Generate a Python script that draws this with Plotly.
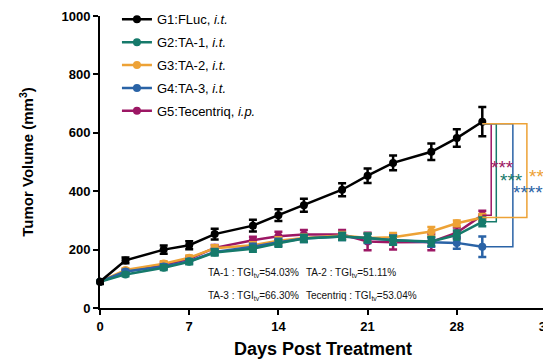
import plotly.graph_objects as go

days = [0, 2, 5, 7, 9, 12, 14, 16, 19, 21, 23, 26, 28, 30]
names = ["G1:FLuc, <i>i.t.</i>", "G2:TA-1, <i>i.t.</i>", "G3:TA-2, <i>i.t.</i>",
         "G4:TA-3, <i>i.t.</i>", "G5:Tecentriq, <i>i.p.</i>"]
colors = ["#000000", "#167a6b", "#eda236", "#2a63a6", "#9c1764"]
g1 = [90, 163, 200, 215, 253, 282, 318, 352, 405, 453, 497, 535, 582, 638]
g1_err = [8, 10, 14, 14, 18, 20, 20, 22, 22, 25, 25, 28, 30, 50]
g2 = [90, 115, 138, 158, 190, 203, 222, 238, 245, 240, 232, 228, 250, 295]
g2_err = [5, 6, 8, 8, 10, 10, 12, 12, 12, 15, 15, 15, 15, 15]
g3 = [90, 130, 152, 172, 205, 215, 230, 240, 248, 240, 242, 262, 290, 310]
g3_err = [5, 6, 8, 8, 10, 10, 12, 12, 12, 15, 15, 15, 10, 12]
g4 = [90, 125, 142, 160, 192, 210, 225, 238, 245, 238, 233, 225, 223, 210]
g4_err = [5, 6, 8, 8, 10, 10, 12, 12, 12, 15, 15, 15, 20, 35]
g5 = [90, 125, 148, 168, 206, 232, 246, 252, 252, 228, 225, 226, 258, 318]
g5_err = [5, 6, 8, 8, 10, 12, 15, 15, 15, 30, 25, 28, 18, 15]
stars = ["***", "***", "***", "****", "***"]
tgi_labels = ["TA-1 : TGI<sub>tv</sub>=54.03%", "TA-2 : TGI<sub>tv</sub>=51.11%",
              "TA-3 : TGI<sub>tv</sub>=66.30%", "Tecentriq : TGI<sub>tv</sub>=53.04%"]

series = [g1, g2, g3, g4, g5]
errs = [g1_err, g2_err, g3_err, g4_err, g5_err]

fig = go.Figure()
order = [4, 2, 3, 1, 0]
for i in order:
    fig.add_trace(go.Scatter(
        x=days, y=series[i], name=names[i], mode="lines+markers",
        line=dict(color=colors[i], width=2.5),
        marker=dict(color=colors[i], size=8),
        error_y=dict(type="data", array=errs[i], color=colors[i], thickness=2.5, width=4),
        legendrank=i + 1, legendgroup="g%d" % i, cliponaxis=False))

# significance brackets from last point of G1 to last point of each group
last_x = days[-1]
top = g1[-1] - 7
bx = {4: 30.7, 1: 31.1, 3: 32.4, 2: 33.5}
for i, xb in bx.items():
    fig.add_trace(go.Scatter(
        x=[last_x, xb, xb, last_x], y=[top, top, series[i][-1], series[i][-1]],
        mode="lines", line=dict(color=colors[i], width=1.5), showlegend=False,
        hoverinfo="skip", cliponaxis=False))

star_pos = {4: (31.6, 480), 1: (32.3, 438), 2: (34.6, 450), 3: (33.6, 396)}
for i, (sx, sy) in star_pos.items():
    fig.add_annotation(x=sx, y=sy, text=stars[i], showarrow=False,
                       font=dict(color=colors[i], size=19, family="Arial"),
                       xanchor="center", yanchor="middle")

tgi_pos = [(8.3, 120), (16.0, 120), (8.3, 41), (16.0, 41)]
for t, (tx, ty) in zip(tgi_labels, tgi_pos):
    fig.add_annotation(x=tx, y=ty, text=t, showarrow=False, xanchor="left",
                       font=dict(size=10, family="Arial", color="#111"))

fig.update_layout(
    width=543, height=352,
    margin=dict(l=92, r=5, t=8, b=52, autoexpand=False),
    plot_bgcolor="white", paper_bgcolor="white",
    font=dict(family="Arial", color="black"),
    showlegend=True,
    legend=dict(x=0.038, y=1.04, xanchor="left", yanchor="top",
                font=dict(size=13, family="Arial"), bgcolor="rgba(0,0,0,0)",
                tracegroupgap=3, itemwidth=30),
    xaxis=dict(range=[0, 35], tickvals=[0, 7, 14, 21, 28, 35], showgrid=False,
               zeroline=False, showline=True, linecolor="black", linewidth=2,
               ticks="outside", ticklen=5, tickwidth=2, tickcolor="black",
               automargin=False, ticklabeloverflow="allow",
               tickfont=dict(size=13, family="Arial", weight="bold"),
               title=dict(text="<b>Days Post Treatment</b>", font=dict(size=18), standoff=10)),
    yaxis=dict(range=[0, 1000], tickvals=[0, 200, 400, 600, 800, 1000], showgrid=False,
               zeroline=False, showline=True, linecolor="black", linewidth=2,
               ticks="outside", ticklen=5, tickwidth=2, tickcolor="black",
               automargin=False, ticklabeloverflow="allow",
               tickfont=dict(size=13, family="Arial", weight="bold"),
               title=dict(text="<b>Tumor Volume (mm<sup>3</sup>)</b>", font=dict(size=15), standoff=24)),
)
fig.write_html("out.html")
